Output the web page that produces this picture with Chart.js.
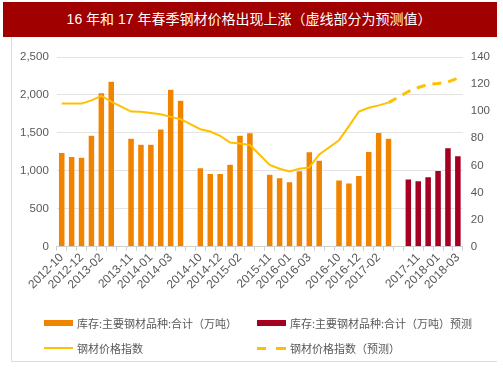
<!DOCTYPE html>
<html lang="zh">
<head>
    <meta charset="UTF-8">
    <title>钢材价格</title>
    <script src="https://cdn.jsdelivr.net/npm/chart.js"></script>
</head>
<body style="margin: 0; width: 503px; height: 378px; background-color: white; position: relative; overflow: hidden; font-family: 'Liberation Sans', 'Noto Sans CJK SC', sans-serif;">
    <div style="position: absolute; left: 3px; top: 2px; width: 494px; height: 35px; background-color: #a00000; color: white; font-size: 14px; line-height: 35px; text-align: center; text-indent: -2px;">16 年和 17 年春季钢材价格出现上涨（虚线部分为预测值）</div>
    <div style="position: absolute; left: 11px; top: 37px; width: 485px; height: 324px; border-left: 1px solid #dcdcdc; border-bottom: 1px solid #dcdcdc;"></div>

    <div style="position: absolute; left: 0; top: 37px; width: 503px; height: 270px;">
        <canvas id="chart"></canvas>
    </div>
    <div id="legend" style="position: absolute; left: 0; top: 0; width: 503px; height: 378px; pointer-events: none; font-size: 11px; color: #595959;"></div>

    <script>
        // 月份（空字符串为两组之间的空档）
        const months = [
            '2012-10', '2012-11', '2012-12', '2013-01', '2013-02', '2013-03', '',
            '2013-11', '2013-12', '2014-01', '2014-02', '2014-03', '2014-04', '',
            '2014-10', '2014-11', '2014-12', '2015-01', '2015-02', '2015-03', '',
            '2015-11', '2015-12', '2016-01', '2016-02', '2016-03', '2016-04', '',
            '2016-10', '2016-11', '2016-12', '2017-01', '2017-02', '2017-03', '',
            '2017-10', '2017-11', '2017-12', '2018-01', '2018-02', '2018-03'
        ];
        // 坐标轴上显示的标签
        const shownTicks = [
            '2012-10', '2012-12', '2013-02', '2013-11', '2014-01', '2014-03',
            '2014-10', '2014-12', '2015-02', '2015-11', '2016-01', '2016-03',
            '2016-10', '2016-12', '2017-02', '2017-11', '2018-01', '2018-03'
        ];

        // 库存:主要钢材品种:合计（万吨）
        const stock = [
            1240, 1190, 1180, 1470, 2030, 2180, null,
            1430, 1350, 1350, 1550, 2075, 1930, null,
            1040, 965, 965, 1088, 1470, 1500, null,
            955, 908, 855, 1000, 1250, 1140, null,
            878, 838, 938, 1254, 1504, 1430, null,
            null, null, null, null, null, null
        ];
        const stockForecast = [
            null, null, null, null, null, null, null,
            null, null, null, null, null, null, null,
            null, null, null, null, null, null, null,
            null, null, null, null, null, null, null,
            null, null, null, null, null, null, null,
            891, 868, 921, 1004, 1303, 1197
        ];

        // 钢材价格指数
        const priceIndex = [
            105.6, 105.6, 105.6, 108, 111.3, 107, null,
            99.7, 99.5, 98.7, 97.8, 95.8, 94.1, null,
            86.7, 85, 81.8, 76.9, 76.1, 75, null,
            60.4, 57.5, 55.5, 57.5, 58.5, 68, null,
            78.6, 89, 99.7, 102.5, 104.3, 106.3, null,
            null, null, null, null, null, null
        ];
        const priceForecast = [
            null, null, null, null, null, null, null,
            null, null, null, null, null, null, null,
            null, null, null, null, null, null, null,
            null, null, null, null, null, null, null,
            null, null, null, null, null, 106.3, null,
            114.5, 117.5, 119.8, 120.5, 121.5, 124.5
        ];

        const orange = '#f08300';
        const crimson = '#a50021';
        const gold = '#ffc000';
        const gray = '#595959';
        const gridColor = '#e3e3e3';

        const chart = new Chart(document.getElementById('chart'), {
            type: 'bar',
            data: {
                labels: months,
                datasets: [{
                    type: 'line',
                    label: '钢材价格指数',
                    data: priceIndex,
                    yAxisID: 'y1',
                    borderColor: gold,
                    borderWidth: 2,
                    pointRadius: 0,
                    spanGaps: true,
                    order: 0
                }, {
                    type: 'line',
                    label: '钢材价格指数（预测）',
                    data: priceForecast,
                    yAxisID: 'y1',
                    borderColor: gold,
                    borderWidth: 3,
                    borderDash: [9, 7],
                    pointRadius: 0,
                    spanGaps: true,
                    order: 0
                }, {
                    label: '库存:主要钢材品种:合计（万吨）',
                    data: stock,
                    yAxisID: 'y',
                    backgroundColor: orange,
                    borderColor: 'rgba(255,255,255,0.5)',
                    borderWidth: 0.5,
                    grouped: false,
                    barPercentage: 0.66,
                    categoryPercentage: 1,
                    order: 1
                }, {
                    label: '库存:主要钢材品种:合计（万吨）预测',
                    data: stockForecast,
                    yAxisID: 'y',
                    backgroundColor: crimson,
                    borderColor: 'rgba(255,255,255,0.5)',
                    borderWidth: 0.5,
                    grouped: false,
                    barPercentage: 0.66,
                    categoryPercentage: 1,
                    order: 1
                }]
            },
            options: {
                responsive: true,
                maintainAspectRatio: false,
                animation: false,
                layout: { padding: { left: 12, right: 5, top: 20, bottom: 15 } },
                plugins: {
                    legend: { display: false },
                    tooltip: { enabled: false }
                },
                scales: {
                    x: {
                        grid: { drawOnChartArea: false, color: '#d0d0d0', tickLength: 4 },
                        border: { color: '#d0d0d0' },
                        ticks: {
                            autoSkip: false,
                            maxRotation: 45,
                            minRotation: 45,
                            padding: 0,
                            color: gray,
                            font: { size: 12, family: "'Liberation Sans', sans-serif" },
                            callback: function (value) {
                                const m = months[value];
                                return shownTicks.includes(m) ? m : '';
                            }
                        }
                    },
                    y: {
                        position: 'left',
                        min: 0,
                        max: 2500,
                        grid: { color: gridColor, drawTicks: false },
                        border: { display: false },
                        ticks: {
                            stepSize: 500,
                            padding: 8,
                            color: gray,
                            font: { size: 11.5, family: "'Liberation Sans', sans-serif" },
                            callback: v => v.toLocaleString('en-US')
                        }
                    },
                    y1: {
                        position: 'right',
                        min: 0,
                        max: 140,
                        grid: { drawOnChartArea: false, drawTicks: false },
                        border: { display: false },
                        ticks: {
                            stepSize: 20,
                            padding: 8,
                            color: gray,
                            font: { size: 11.5, family: "'Liberation Sans', sans-serif" }
                        }
                    }
                }
            }
        });

        // 两行两列的图例，颜色取自数据集
        const legendPos = [
            { ds: 2, x: 44, y: 323 },
            { ds: 3, x: 257, y: 323 },
            { ds: 0, x: 44, y: 348 },
            { ds: 1, x: 257, y: 348 }
        ];
        const legendDiv = document.getElementById('legend');
        legendPos.forEach(p => {
            const ds = chart.data.datasets[p.ds];
            let marker;
            if (ds.type === 'line' && ds.borderDash) {
                marker = `<span style="position:absolute; left:0; top:-1.5px; width:9px; height:3px; background:${ds.borderColor};"></span>` +
                         `<span style="position:absolute; left:19px; top:-1.5px; width:10px; height:3px; background:${ds.borderColor};"></span>`;
            } else if (ds.type === 'line') {
                marker = `<span style="position:absolute; left:0; top:-1px; width:29px; height:2px; background:${ds.borderColor};"></span>`;
            } else {
                marker = `<span style="position:absolute; left:0; top:-3px; width:29px; height:6px; background:${ds.backgroundColor};"></span>`;
            }
            const item = document.createElement('div');
            item.style.cssText = `position:absolute; left:${p.x}px; top:${p.y}px;`;
            item.innerHTML = marker +
                `<span style="position:absolute; left:33px; top:-8px; white-space:nowrap; line-height:16px; font-family:'Noto Sans CJK SC', sans-serif;">${ds.label}</span>`;
            legendDiv.appendChild(item);
        });
    </script>
</body>
</html>
